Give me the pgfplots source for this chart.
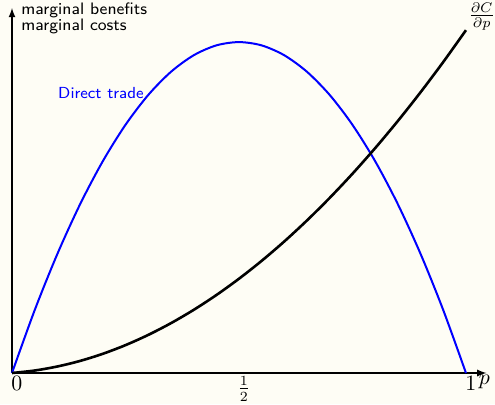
\documentclass[border=0pt]{standalone}
\usepackage{pgfplots}
\pgfplotsset{compat=1.18}
\definecolor{bg}{RGB}{254,253,245}
\begin{document}
\begin{tikzpicture}
\path[use as bounding box, fill=bg] (-6pt,-15.5pt) rectangle (241.5pt,186.5pt);
\begin{axis}[
  at={(0,0)}, anchor=south west,
  scale only axis, width=237.2pt, height=182.5pt,
  xmin=0, xmax=1.045, ymin=0, ymax=1.103,
  axis lines=left, axis line style={-latex, line width=0.6pt},
  xtick={0,0.5,1}, xticklabels={$0$,$\frac{1}{2}$,$1$},
  ytick=\empty, major tick length=0pt,
  xticklabel style={xshift=2.4pt, font=\fontsize{10.5}{12}\selectfont, inner sep=1.5pt},
  clip=false,
]
\addplot[blue, line width=1pt, smooth] coordinates {
(0,0) (0.05,0.19) (0.1,0.36) (0.15,0.51) (0.2,0.64) (0.25,0.75) (0.3,0.84) (0.35,0.91) (0.4,0.96) (0.45,0.99) (0.5,1)
(0.55,0.99) (0.6,0.96) (0.65,0.91) (0.7,0.84) (0.75,0.75) (0.8,0.64) (0.85,0.51) (0.9,0.36) (0.95,0.19) (1,0)};
\addplot[black, line width=1.3pt, smooth] coordinates {
(0,0) (0.05,0.0075) (0.1,0.0197) (0.15,0.0365) (0.2,0.0580) (0.25,0.0842) (0.3,0.1150) (0.35,0.1505) (0.4,0.1906) (0.45,0.2354) (0.5,0.2849)
(0.55,0.3390) (0.6,0.3978) (0.65,0.4613) (0.7,0.5294) (0.75,0.6022) (0.8,0.6796) (0.85,0.7617) (0.9,0.8485) (0.95,0.9399) (1,1.036)};
\node[anchor=base west, inner sep=0pt, align=left, font=\sffamily\fontsize{8.3}{10}\selectfont] at (axis cs:0.0198,1.036) {marginal benefits\\[-2.3pt]marginal costs};
\node[anchor=base west, inner sep=0pt, blue, font=\sffamily\fontsize{8}{9}\selectfont] at (axis cs:0.101,0.831) {Direct trade};
\node[anchor=south west, inner sep=0pt, xshift=1pt] at (axis cs:1,1.036) {$\frac{\partial C}{\partial p}$};
\node[anchor=north, inner sep=1pt, xshift=-1pt, font=\fontsize{11}{13}\selectfont] at (axis cs:1.045,0) {$p$};
\end{axis}
\end{tikzpicture}
\end{document}
